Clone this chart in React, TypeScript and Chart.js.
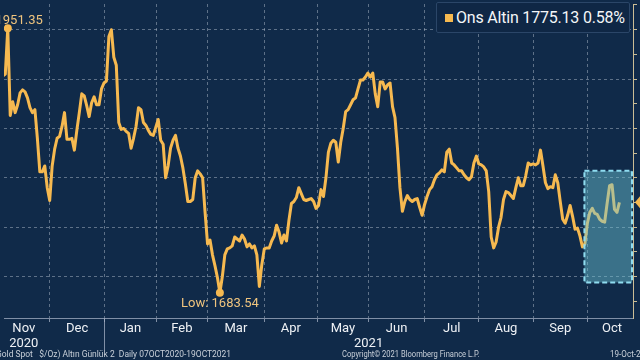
import React, { useEffect, useRef } from "react";
import { Chart, registerables } from "chart.js";

Chart.register(...registerables);

// ---- data (weekday index 0 = Mon 2 Nov 2020) ----
const SERIES_NAME = "Ons Altin";
const LAST_TEXT = "1775.13";
const CHANGE_TEXT = "0.58%";

const prices: number[] = [
  1895, 1908, 1903, 1905, 1951.35, 1863, 1877, 1866, 1874, 1886,
  1889, 1887, 1881, 1871, 1866, 1869, 1840, 1806, 1806, 1812,
  1790, 1777, 1812, 1829, 1840, 1842, 1852, 1866, 1839, 1839,
  1840, 1828, 1848, 1866, 1885, 1883, 1873, 1862, 1876, 1882,
  1874, 1874, 1890, 1896, 1898, 1943, 1950, 1922, 1914, 1856,
  1849, 1850, 1847, 1845, 1830, 1840, 1852, 1871, 1869, 1856,
  1853, 1848, 1844, 1843, 1851, 1859, 1838, 1834, 1800, 1812,
  1830, 1838, 1843, 1830, 1822, 1810, 1794, 1776, 1776, 1778,
  1800, 1807, 1804, 1800, 1765, 1733, 1737, 1722, 1711, 1699,
  1683.54, 1700, 1722, 1728, 1729, 1731, 1740, 1738, 1736, 1742,
  1738, 1730, 1733, 1729, 1731, 1722, 1690, 1712, 1728, 1729,
  1729, 1736, 1741, 1752, 1745, 1734, 1742, 1736, 1757, 1774,
  1776, 1780, 1790, 1784, 1778, 1777, 1778, 1779, 1776, 1769,
  1772, 1788, 1781, 1800, 1826, 1835, 1838, 1836, 1816, 1836,
  1850, 1867, 1869, 1874, 1879, 1881, 1890, 1899, 1899, 1902,
  1906, 1902, 1906, 1885, 1872, 1897, 1897, 1890, 1894, 1896,
  1872, 1861, 1830, 1790, 1766, 1776, 1782, 1778, 1776, 1778,
  1779, 1770, 1762, 1773, 1781, 1788, 1791, 1798, 1803, 1805,
  1808, 1806, 1826, 1829, 1815, 1813, 1810, 1807, 1807, 1803,
  1800, 1798, 1801, 1815, 1822, 1814, 1813, 1811, 1807, 1786,
  1740, 1729, 1735, 1750, 1760, 1778, 1786, 1785, 1782, 1779,
  1790, 1800, 1792, 1792, 1802, 1815, 1813, 1814, 1813, 1815,
  1828, 1812, 1795, 1789, 1791, 1790, 1803, 1795, 1776, 1758,
  1754, 1762, 1772, 1761, 1748, 1749, 1741, 1730, 1733, 1754,
  1765, 1769, 1764, 1763, 1758, 1756, 1755, 1774, 1792, 1793,
  1768, 1765, 1775.13,
];

// month boundaries (weekday index) and month label positions
const monthBoundaries: number[] = [21, 43.2, 64.2, 85, 108, 129.5, 150.3, 173, 195, 217, 239];
const monthLabelPositions: number[] = [10.5, 32.1, 53.7, 74.6, 96.5, 118.75, 139.9, 161.65, 184, 206, 228, 249];
const monthLabels: string[] = ["Nov", "Dec", "Jan", "Feb", "Mar", "Apr", "May", "Jun", "Jul", "Aug", "Sep", "Oct"];
const yearLabels: string[] = ["2020", "2021"];
const yearLabelPositions: number[] = [10.5, 150.3];
const yearSeparator = 43.2;

const yTicks: number[] = [1675, 1700, 1725, 1750, 1775, 1800, 1825, 1850, 1875, 1900, 1925, 1950, 1975];
const yGridStep = 50;

const highIndex = 4;
const lowIndex = 90;
const highlightX: number[] = [237.8, 257.1];
const highlightY: number[] = [1694, 1807];

const X_MIN = 2.47;
const X_MAX = 257.5;
const Y_MIN = 1658;
const Y_MAX = 1976;

// ---- styles ----
const BG = "#102a49";
const LINE = "#f6b950";
const GRID = "rgba(190,200,212,0.45)";
const AXIS_X = "rgba(165,178,198,0.75)";
const TAN = "#cbbd95";
const LABEL = "#eef1f5";
const ANNOT = "#efc47e";
const FONT = "Roboto, 'DejaVu Sans', sans-serif";

export default function App() {
  const ref = useRef<HTMLCanvasElement | null>(null);

  useEffect(() => {
    const canvas = ref.current;
    if (!canvas) return;

    const boundarySet = new Set<number>(monthBoundaries);
    const labelMap = new Map<number, string[] | string>();
    monthLabelPositions.forEach((p, i) => {
      const yi = yearLabelPositions.indexOf(p);
      labelMap.set(p, yi >= 0 ? [monthLabels[i], yearLabels[yi]] : monthLabels[i]);
    });
    yearLabelPositions.forEach((p, i) => {
      if (!labelMap.has(p)) labelMap.set(p, ["", yearLabels[i]]);
    });
    const xTickValues = Array.from(new Set<number>([...monthBoundaries, ...monthLabelPositions])).sort((a, b) => a - b);

    const annotations = {
      id: "annotations",
      afterDatasetsDraw(chart: any) {
        const { ctx, chartArea, scales } = chart;
        const xs = scales.x;
        const ys = scales.y;
        ctx.save();

        // highlight box
        const bx0 = xs.getPixelForValue(highlightX[0]);
        const bx1 = xs.getPixelForValue(highlightX[1]);
        const by0 = ys.getPixelForValue(highlightY[1]);
        const by1 = ys.getPixelForValue(highlightY[0]);
        ctx.fillStyle = "rgba(110,200,215,0.45)";
        ctx.fillRect(bx0, by0, bx1 - bx0, by1 - by0);
        ctx.setLineDash([5, 3]);
        ctx.lineWidth = 2;
        ctx.strokeStyle = "#8fdcf0";
        ctx.strokeRect(bx0, by0, bx1 - bx0, by1 - by0);
        ctx.setLineDash([]);

        // high / low labels
        ctx.fillStyle = ANNOT;
        ctx.font = `13px ${FONT}`;
        const hx = xs.getPixelForValue(highIndex);
        const hy = ys.getPixelForValue(prices[highIndex]);
        ctx.textAlign = "right";
        ctx.textBaseline = "alphabetic";
        ctx.fillText(prices[highIndex].toFixed(2), hx + 35, hy - 4);
        const lx = xs.getPixelForValue(lowIndex);
        const ly = ys.getPixelForValue(prices[lowIndex]);
        ctx.textAlign = "center";
        ctx.fillText("Low: " + prices[lowIndex].toFixed(2), lx, ly + 14);

        // year separator
        const sx = Math.round(xs.getPixelForValue(yearSeparator)) + 0.5;
        ctx.strokeStyle = AXIS_X;
        ctx.lineWidth = 1;
        ctx.beginPath();
        ctx.moveTo(sx, chartArea.bottom);
        ctx.lineTo(sx, chartArea.bottom + 32);
        ctx.stroke();

        // last value marker on right axis
        const last = prices[prices.length - 1];
        const my = ys.getPixelForValue(last);
        const mx = chartArea.right + 2;
        ctx.fillStyle = LINE;
        ctx.beginPath();
        ctx.moveTo(mx, my);
        ctx.lineTo(mx + 5, my - 6);
        ctx.lineTo(mx + 20, my - 6);
        ctx.lineTo(mx + 20, my + 6);
        ctx.lineTo(mx + 5, my + 6);
        ctx.closePath();
        ctx.fill();
        ctx.restore();
      },
    };

    const chart = new Chart(canvas, {
      type: "line",
      data: {
        datasets: [
          {
            label: SERIES_NAME,
            data: prices.map((v, i) => ({ x: i, y: v })),
            borderColor: LINE,
            borderWidth: 3,
            pointRadius: 0,
            tension: 0,
            borderJoinStyle: "round",
            fill: false,
          },
          {
            label: "extremes",
            data: [
              { x: highIndex, y: prices[highIndex] },
              { x: lowIndex, y: prices[lowIndex] },
            ],
            showLine: false,
            pointRadius: 4,
            pointBackgroundColor: LINE,
            pointBorderColor: LINE,
            borderWidth: 0,
          },
        ],
      },
      options: {
        animation: false,
        responsive: false,
        layout: { padding: 0 },
        plugins: { legend: { display: false }, tooltip: { enabled: false } },
        scales: {
          x: {
            type: "linear",
            min: X_MIN,
            max: X_MAX,
            afterBuildTicks: (s: any) => {
              s.ticks = xTickValues.map((v) => ({ value: v }));
            },
            afterFit: (s: any) => {
              s.height = 42;
            },
            ticks: {
              autoSkip: false,
              maxRotation: 0,
              minRotation: 0,
              padding: 0,
              color: LABEL,
              font: { family: FONT, size: 13, lineHeight: 1.1 },
              callback: (v: any) => labelMap.get(v) ?? "",
            },
            grid: {
              color: (c: any) => (boundarySet.has(c.tick?.value) ? GRID : "transparent"),
              tickColor: (c: any) => (boundarySet.has(c.tick?.value) ? AXIS_X : "transparent"),
              tickLength: 4,
              lineWidth: 1,
            },
            border: { display: true, color: AXIS_X, dash: [3, 3] },
          },
          y: {
            type: "linear",
            position: "right",
            min: Y_MIN,
            max: Y_MAX,
            afterBuildTicks: (s: any) => {
              s.ticks = yTicks.map((v) => ({ value: v }));
            },
            afterFit: (s: any) => {
              s.width = 7;
            },
            ticks: { display: false },
            grid: {
              color: (c: any) => (c.tick && c.tick.value % yGridStep === 0 ? GRID : "transparent"),
              tickColor: TAN,
              tickLength: 4,
              lineWidth: 1,
            },
            border: { display: true, color: TAN, dash: [3, 3] },
          },
        },
      },
      plugins: [annotations],
    } as any);

    return () => chart.destroy();
  }, []);

  const footer: React.CSSProperties = {
    position: "absolute",
    top: 349,
    fontFamily: FONT,
    fontSize: 9,
    lineHeight: "11px",
    color: "#c9d0d9",
    whiteSpace: "pre",
    transformOrigin: "left center",
  };

  return (
    <div
      style={{
        position: "absolute",
        left: 0,
        top: 0,
        width: 640,
        height: 360,
        overflow: "hidden",
        background: BG,
      }}
    >
      <canvas ref={ref} width={640} height={360} style={{ display: "block" }} />
      <div
        style={{
          position: "absolute",
          left: 436,
          top: 2,
          width: 194,
          height: 31,
          boxSizing: "border-box",
          border: "1px solid #2b4668",
          background: "#0f2745",
          borderRadius: 2,
          fontFamily: FONT,
          color: "#f4f6f8",
          fontSize: 16,
          letterSpacing: "-0.2px",
          lineHeight: "29px",
          whiteSpace: "nowrap",
        }}
      >
        <span
          style={{
            position: "absolute",
            left: 8,
            top: 11,
            width: 8,
            height: 8,
            background: LINE,
          }}
        />
        <span style={{ position: "absolute", left: 19, top: 0 }}>
          {SERIES_NAME} {LAST_TEXT} {CHANGE_TEXT}
        </span>
      </div>
      <div style={{ ...footer, left: -4, transform: "scaleX(0.94)" }}>
        {"Gold Spot   $/Oz) Altın Günlük 2  Daily 07OCT2020-19OCT2021"}
      </div>
      <div style={{ ...footer, left: 342, transform: "scaleX(0.84)" }}>{"Copyright© 2021 Bloomberg Finance L.P."}</div>
      <div style={{ ...footer, left: 610, transform: "scaleX(0.9)" }}>{"19-Oct-2021"}</div>
    </div>
  );
}
